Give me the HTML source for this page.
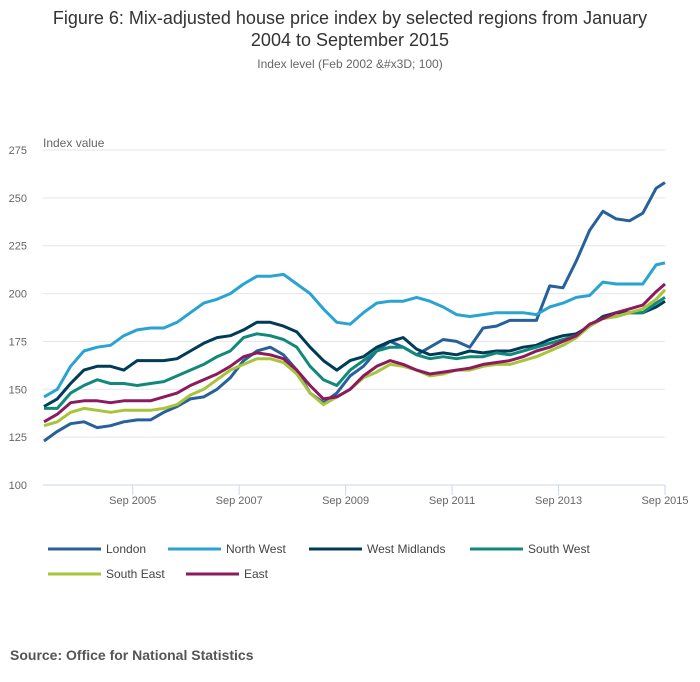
<!DOCTYPE html>
<html><head><meta charset="utf-8"><style>
body{margin:0;width:700px;height:682px;background:#fff;font-family:"Liberation Sans",sans-serif;overflow:hidden}
svg{display:block}
</style></head><body>
<svg id="chart" width="700" height="682">
<text x="350" y="24" text-anchor="middle" font-size="18" fill="#333">Figure 6: Mix-adjusted house price index by selected regions from January</text>
<text x="350" y="46" text-anchor="middle" font-size="18" fill="#333">2004 to September 2015</text>
<text x="350" y="68" text-anchor="middle" font-size="12" fill="#666">Index level (Feb 2002 &amp;#x3D; 100)</text>
<text x="43" y="147" font-size="12" fill="#666">Index value</text>
<g id="grid"></g><g id="series"></g><g id="legend"></g>
<text x="10" y="660" font-size="14" font-weight="bold" fill="#555">Source: Office for National Statistics</text>
</svg>
<script>
const months=[0,3,6,9,12,15,18,21,24,27,30,33,36,39,42,45,48,51,54,57,60,63,66,69,72,75,78,81,84,87,90,93,96,99,102,105,108,111,114,117,120,123,126,129,132,135,138,140];
const london=[123,128,132,133,130,131,133,134,134,138,141,145,146,150,156,165,170,172,168,160,148,143,148,157,162,170,175,172,168,172,176,175,172,182,183,186,204,203,217,233,243,239,238,242,255,258,258,258].slice(0,48);
const northWest=[146,150,162,170,172,173,178,181,182,182,185,190,195,197,200,205,209,209,210,205,200,192,185,184,190,195,196,196,198,196,193,189,188,189,190,190,190,189,193,195,198,199,206,205,205,205,215,216];
const westMidlands=[141,145,153,160,162,162,160,165,165,165,166,170,174,177,178,181,185,185,183,180,172,165,160,165,167,172,175,177,171,168,169,168,170,169,170,170,172,173,176,178,179,183,188,190,190,190,193,196];
const southWest=[140,140,148,152,155,153,153,152,153,154,157,160,163,167,170,177,179,178,176,172,162,155,152,160,165,170,172,172,168,166,167,166,167,167,169,168,170,172,174,176,178,183,187,188,190,190,195,198];
const southEast=[131,133,138,140,139,138,139,139,139,140,142,147,150,155,160,163,166,166,164,158,148,142,146,150,156,159,163,162,160,157,158,160,160,162,163,163,165,167,170,173,177,183,187,188,190,192,197,202];
const east=[133,137,143,144,144,143,144,144,144,146,148,152,155,158,162,167,169,168,166,160,152,145,146,150,157,162,165,163,160,158,159,160,161,163,164,165,167,170,172,175,178,184,187,190,192,194,201,205];
// fix london tail to picture readings
london.splice(36,12,186,186,204,203,217,233,243,239,238,242,255,258);
const yTicks=[100,125,150,175,200,225,250,275];
const xTickMonths=[20,44,68,92,116,140];
const xTickLabels=["Sep 2005","Sep 2007","Sep 2009","Sep 2011","Sep 2013","Sep 2015"];
const seriesNames=["London","North West","West Midlands","South West","South East","East"];
const seriesData=[london,northWest,westMidlands,southWest,southEast,east];
const colors=["#27609a","#2aa3d3","#003c57","#11897a","#a8c43a","#8b1a5e"];
const NS="http://www.w3.org/2000/svg";
const x=m=>44+m*(621/140);
const y=v=>485-(v-100)*(335/175);
function mk(tag,attrs,parent){const e=document.createElementNS(NS,tag);for(const k in attrs)e.setAttribute(k,attrs[k]);parent.appendChild(e);return e;}
const grid=document.getElementById('grid');
yTicks.forEach(t=>{
  const l=mk('line',{x1:43,x2:665,y1:y(t),y2:y(t),stroke:t===100?'#ccd6eb':'#e6e6e6','stroke-width':1},grid);
  
  
  const tx=mk('text',{x:27,y:y(t)+4,'text-anchor':'end','font-size':11,fill:'#666'},grid);
  tx.textContent=t;
  
  
});
xTickMonths.forEach((m,i)=>{
  const l=mk('line',{x1:x(m),x2:x(m),y1:485,y2:495,stroke:'#ccd6eb'},grid);
  
  
  const tx=mk('text',{x:x(m),y:504,'text-anchor':'middle','font-size':11,fill:'#666'},grid);
  tx.textContent=xTickLabels[i];
  
  
});
const sg=document.getElementById('series');
seriesData.forEach((d,i)=>{
  const pts=d.map((v,j)=>x(months[j]).toFixed(1)+','+y(v).toFixed(1)).join(' ');
  const p=mk('polyline',{points:pts,fill:'none',stroke:colors[i],'stroke-width':3,'stroke-linejoin':'round'},sg);
  
  
});
const lg=document.getElementById('legend');
const lpos=[[48,549],[168,549],[309,549],[470,549],[48,574],[186,574]];
seriesNames.forEach((n,i)=>{
  const [lx,ly]=lpos[i];
  const g=mk('g',{},lg);
  
  
  mk('line',{x1:lx,x2:lx+53,y1:ly,y2:ly,stroke:colors[i],'stroke-width':3},g);
  const t=mk('text',{x:lx+58,y:ly+4,'font-size':12,fill:'#444'},g);
  t.textContent=n;
});
</script>
</body></html>
